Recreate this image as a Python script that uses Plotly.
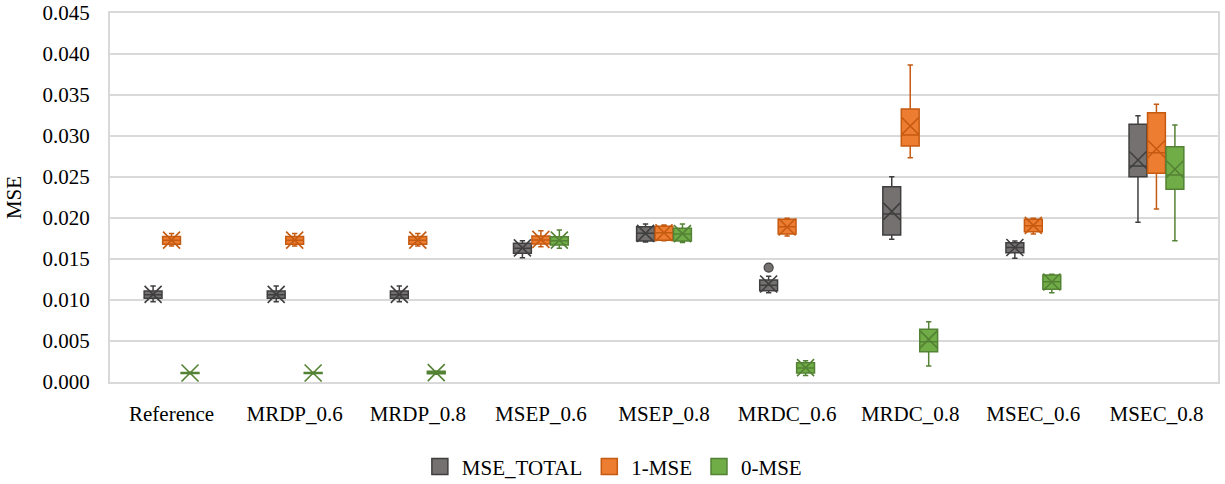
import plotly.graph_objects as go

categories = ["Reference", "MRDP_0.6", "MRDP_0.8", "MSEP_0.6", "MSEP_0.8",
              "MRDC_0.6", "MRDC_0.8", "MSEC_0.6", "MSEC_0.8"]

# MSE_TOTAL
total_low = [0.00980, 0.00980, 0.00980, 0.01516, 0.01707, 0.01089, 0.01740, 0.01508, 0.01948]
total_q1 = [0.01020, 0.01020, 0.01020, 0.01570, 0.01720, 0.01113, 0.01793, 0.01577, 0.02504]
total_med = [0.01065, 0.01065, 0.01065, 0.01630, 0.01813, 0.01180, 0.02050, 0.01640, 0.02634]
total_q3 = [0.01110, 0.01110, 0.01110, 0.01691, 0.01894, 0.01244, 0.02382, 0.01699, 0.03143]
total_high = [0.01170, 0.01170, 0.01170, 0.01723, 0.01927, 0.01290, 0.02504, 0.01720, 0.03248]
total_mean = [0.01068, 0.01068, 0.01068, 0.01635, 0.01812, 0.01195, 0.02080, 0.01640, 0.02707]
total_outlier_cat = ["MRDC_0.6"]
total_outlier_val = [0.01395]

# 1-MSE
one_low = [0.01660, 0.01660, 0.01660, 0.01650, 0.01723, 0.01780, 0.02735, 0.01805, 0.02110]
one_q1 = [0.01680, 0.01680, 0.01680, 0.01683, 0.01730, 0.01805, 0.02878, 0.01833, 0.02545]
one_med = [0.01730, 0.01730, 0.01730, 0.01732, 0.01820, 0.01894, 0.03012, 0.01906, 0.02796]
one_q3 = [0.01775, 0.01775, 0.01775, 0.01780, 0.01900, 0.01984, 0.03329, 0.01984, 0.03284]
one_high = [0.01810, 0.01810, 0.01810, 0.01845, 0.01915, 0.01996, 0.03866, 0.01996, 0.03387]
one_mean = [0.01730, 0.01730, 0.01730, 0.01740, 0.01820, 0.01890, 0.03122, 0.01910, 0.02841]

# 0-MSE
zero_low = [0.00100, 0.00100, 0.00095, 0.01630, 0.01700, 0.00080, 0.00195, 0.01089, 0.01723]
zero_q1 = [0.00105, 0.00105, 0.00100, 0.01670, 0.01720, 0.00110, 0.00370, 0.01130, 0.02350]
zero_med = [0.00110, 0.00110, 0.00115, 0.01723, 0.01805, 0.00170, 0.00490, 0.01223, 0.02524]
zero_q3 = [0.00115, 0.00115, 0.00130, 0.01772, 0.01874, 0.00235, 0.00643, 0.01305, 0.02870]
zero_high = [0.00120, 0.00120, 0.00135, 0.01854, 0.01927, 0.00260, 0.00735, 0.01313, 0.03134]
zero_mean = [0.00110, 0.00110, 0.00115, 0.01730, 0.01810, 0.00175, 0.00520, 0.01220, 0.02594]

series_names = ["MSE_TOTAL", "1-MSE", "0-MSE"]
fills = ["#767171", "#ED7D31", "#70AD47"]
borders = ["#3F3F3F", "#C55A11", "#548235"]

OFFSET = 0.150
BOXW = 0.145
FONT = "Liberation Serif, Times New Roman, serif"

fig = go.Figure()

stats = [
    (total_low, total_q1, total_med, total_q3, total_high, total_mean),
    (one_low, one_q1, one_med, one_q3, one_high, one_mean),
    (zero_low, zero_q1, zero_med, zero_q3, zero_high, zero_mean),
]

for k, (lo, q1, med, q3, hi, mean) in enumerate(stats):
    shift = (k - 1) * OFFSET
    xs = [i + shift for i in range(len(categories))]
    fig.add_trace(go.Box(
        x=xs, q1=q1, median=med, q3=q3, lowerfence=lo, upperfence=hi,
        width=BOXW, whiskerwidth=0.3, boxpoints=False,
        fillcolor=fills[k], line=dict(color=borders[k], width=1.5),
        showlegend=False, name=series_names[k], hoverinfo="skip",
    ))
    fig.add_trace(go.Scatter(
        x=xs, y=mean, mode="markers", showlegend=False, hoverinfo="skip",
        marker=dict(symbol="x-thin", size=17,
                    line=dict(color=borders[k], width=1.6)),
    ))

# outlier
fig.add_trace(go.Scatter(
    x=[categories.index(c) - OFFSET for c in total_outlier_cat],
    y=total_outlier_val, mode="markers", showlegend=False, hoverinfo="skip",
    marker=dict(symbol="circle", size=9, color=fills[0],
                line=dict(color=borders[0], width=1.2)),
))

# legend entries
for k in range(3):
    fig.add_trace(go.Scatter(
        x=[None], y=[None], mode="markers", name=series_names[k],
        marker=dict(symbol="square", size=16, color=fills[k],
                    line=dict(color=borders[k], width=1.5)),
    ))

fig.update_layout(
    width=1225, height=484,
    margin=dict(l=110, r=7, t=13, b=102, autoexpand=False),
    paper_bgcolor="white", plot_bgcolor="white",
    font=dict(family=FONT, size=21, color="#000000"),
    legend=dict(orientation="h", x=0.4534, xanchor="center", y=-0.230,
                yanchor="middle", font=dict(size=21, family=FONT),
                itemwidth=34, traceorder="normal"),
    showlegend=True,
)
fig.update_xaxes(
    range=[-0.5, 8.5], tickmode="array",
    tickvals=list(range(len(categories))), ticktext=categories,
    showgrid=False, zeroline=False, automargin=False,
    showline=True, mirror=True, linecolor="#D9D9D9", linewidth=2,
    ticks="", ticklabelstandoff=12,
    tickfont=dict(family=FONT, size=21, color="#000000"),
)
fig.update_yaxes(
    range=[0, 0.045], dtick=0.005, tick0=0, tickformat=".3f",
    showgrid=True, gridcolor="#D9D9D9", gridwidth=1.5, zeroline=False,
    automargin=False,
    showline=True, mirror=True, linecolor="#D9D9D9", linewidth=2,
    ticks="", ticklabelstandoff=14,
    tickfont=dict(family=FONT, size=21, color="#000000"),
    title=dict(text="MSE", font=dict(family=FONT, size=21, color="#000000"),
               standoff=15),
)

fig.write_html("out.html")
